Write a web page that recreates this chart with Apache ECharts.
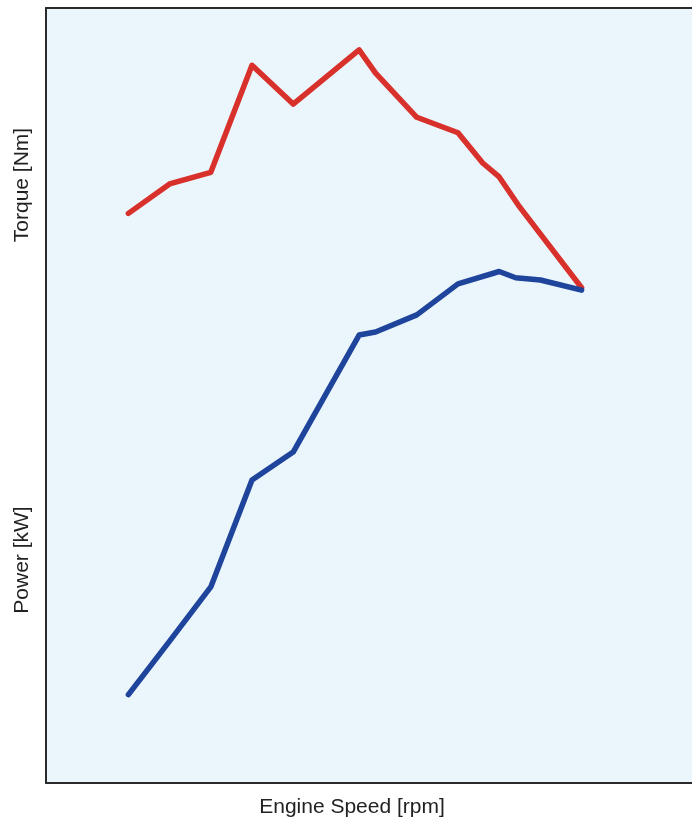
<!DOCTYPE html>
<html>
<head>
<meta charset="utf-8">
<script src="https://cdn.jsdelivr.net/npm/echarts@6/dist/echarts.min.js"></script>
<style>
html,body{margin:0;padding:0;background:#fff;}
#chart{width:692px;height:825px;}
</style>
</head>
<body>
<div id="chart"></div>
<script>
// Engine speed (rpm) for each sample
const torqueRpm = [1000, 1500, 2000, 2500, 3000, 3800, 4000, 4500, 5000, 5300, 5500, 5750, 6500];
const torqueVal = [73.5, 77.3, 78.8, 92.6, 87.6, 94.6, 91.6, 85.9, 83.9, 80.0, 78.2, 74.3, 63.9];
const powerRpm  = [1000, 1500, 2000, 2500, 3000, 3800, 4000, 4500, 5000, 5500, 5700, 6000, 6500];
const powerVal  = [11.4, 18.3, 25.3, 39.1, 42.7, 57.8, 58.2, 60.4, 64.4, 66.0, 65.2, 64.9, 63.6];

const xLabel = 'Engine Speed [rpm]';
const torqueLabel = 'Torque [Nm]';
const powerLabel = 'Power [kW]';

const chart = echarts.init(document.getElementById('chart'));
const font = 'Liberation Sans, Arial, Helvetica, sans-serif';
const axisLineStyle = {color: '#2a2a2a', width: 2};
chart.setOption({
  animation: false,
  grid: {
    left: 46, right: 0, top: 8, bottom: 42,
    show: true, backgroundColor: '#eaf5fc', borderWidth: 0
  },
  xAxis: [
    {
      type: 'value', min: 0, max: 7840, position: 'bottom',
      axisLine: {show: true, lineStyle: axisLineStyle},
      axisTick: {show: false}, axisLabel: {show: false}, splitLine: {show: false}
    },
    {
      type: 'value', min: 0, max: 7840, position: 'top',
      axisLine: {show: true, lineStyle: axisLineStyle},
      axisTick: {show: false}, axisLabel: {show: false}, splitLine: {show: false}
    }
  ],
  yAxis: {
    type: 'value', min: 0, max: 100,
    axisLine: {show: true, lineStyle: axisLineStyle},
    axisTick: {show: false}, axisLabel: {show: false}, splitLine: {show: false}
  },
  series: [
    {
      name: 'Torque', type: 'line', showSymbol: false, xAxisIndex: 0,
      data: torqueRpm.map((r, i) => [r, torqueVal[i]]),
      lineStyle: {color: '#d8302a', width: 5.5, join: 'round', cap: 'round'}
    },
    {
      name: 'Power', type: 'line', showSymbol: false, xAxisIndex: 0,
      data: powerRpm.map((r, i) => [r, powerVal[i]]),
      lineStyle: {color: '#1e449b', width: 5.5, join: 'round', cap: 'round'}
    }
  ],
  graphic: [
    {type: 'text', x: 352, y: 807, style: {text: xLabel, font: '21px ' + font, fill: '#222', align: 'center', verticalAlign: 'middle'}},
    {type: 'text', x: 22, y: 185, rotation: Math.PI / 2, style: {text: torqueLabel, font: '21px ' + font, fill: '#222', align: 'center', verticalAlign: 'middle'}},
    {type: 'text', x: 22, y: 560, rotation: Math.PI / 2, style: {text: powerLabel, font: '21px ' + font, fill: '#222', align: 'center', verticalAlign: 'middle'}}
  ]
});
</script>
</body>
</html>
